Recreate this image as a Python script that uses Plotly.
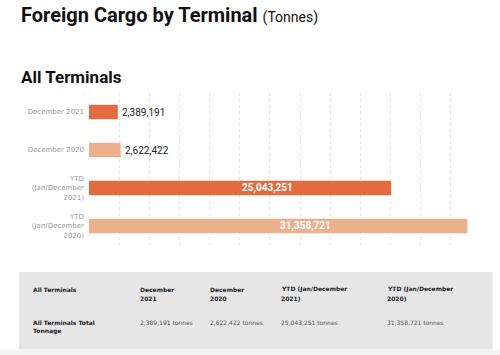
import plotly.graph_objects as go

# ---------------- data ----------------
categories = ["December 2021", "December 2020",
              "YTD<br>(Jan/December<br>2021)", "YTD<br>(Jan/December<br>2020)"]
values = [2389191, 2622422, 25043251, 31358721]

table_headers = ["All Terminals", "December\n2021", "December\n2020",
                 "YTD (Jan/December\n2021)", "YTD (Jan/December\n2020)"]
table_row_label = "All Terminals Total\nTonnage"
table_unit = "tonnes"

# ---------------- style ----------------
bar_colors = ["#E06C40", "#EDB08D", "#E06C40", "#EDB08D"]
WIDTH, HEIGHT = 500, 355
L, R, T, B = 89, 18, 93, 110
PW = WIDTH - L - R
PH = HEIGHT - T - B


def px(x):
    return (x - L) / PW


def py(y):
    return (HEIGHT - B - y) / PH


fig = go.Figure()
fig.add_trace(go.Bar(
    y=categories, x=values, orientation="h",
    marker=dict(color=bar_colors, line=dict(width=0)),
    hoverinfo="skip",
))

annotations = []
vmax = max(values)
for c, v in zip(categories, values):
    if v > 0.3 * vmax:
        annotations.append(dict(
            x=v / 2, y=c, xref="x", yref="y", text=f"{v:,}",
            showarrow=False, xanchor="left", yanchor="middle",
            font=dict(family="Roboto", size=10, color="white", weight="bold")))
    else:
        annotations.append(dict(
            x=v, y=c, xref="x", yref="y", text=f"{v:,}", xshift=2,
            showarrow=False, xanchor="left", yanchor="middle",
            font=dict(family="Roboto", size=10, color="#222222")))

# titles
annotations.append(dict(
    x=px(19), y=py(15), xref="paper", yref="paper", showarrow=False,
    xanchor="left", yanchor="middle",
    text="<b>Foreign Cargo by Terminal</b> <span style='font-size:14px'>(Tonnes)</span>",
    font=dict(family="Roboto", size=20, color="#111111")))
annotations.append(dict(
    x=px(19), y=py(77), xref="paper", yref="paper", showarrow=False,
    xanchor="left", yanchor="middle", text="<b>All Terminals</b>",
    font=dict(family="Roboto", size=17, color="#111111")))

# table
col_x = [31, 138, 208, 279, 385]
row_y = [289, 322]
pitch = 9
for cx, h in zip(col_x, table_headers):
    for i, line in enumerate(h.split("\n")):
        annotations.append(dict(
            x=px(cx), y=py(row_y[0] + i * pitch), xref="paper", yref="paper",
            showarrow=False, xanchor="left", yanchor="middle", text=f"<b>{line}</b>",
            font=dict(family="DejaVu Sans", size=6, color="#222222")))
for i, line in enumerate(table_row_label.split("\n")):
    annotations.append(dict(
        x=px(col_x[0]), y=py(row_y[1] + i * pitch), xref="paper", yref="paper",
        showarrow=False, xanchor="left", yanchor="middle", text=f"<b>{line}</b>",
        font=dict(family="DejaVu Sans", size=6, color="#222222")))
for cx, v in zip(col_x[1:], values):
    annotations.append(dict(
        x=px(cx), y=py(row_y[1]), xref="paper", yref="paper",
        showarrow=False, xanchor="left", yanchor="middle", text=f"{v:,} {table_unit}",
        font=dict(family="DejaVu Sans", size=6, color="#555555")))

shapes = [
    dict(type="rect", xref="paper", yref="paper", x0=px(19), x1=px(492.5),
         y0=py(349.5), y1=py(272), fillcolor="#E6E6E6", line=dict(width=0),
         layer="below"),
    dict(type="rect", xref="paper", yref="paper", x0=px(0), x1=px(500),
         y0=py(355), y1=py(350), fillcolor="#F4F4F4", line=dict(width=0),
         layer="below"),
]

fig.update_layout(
    width=WIDTH, height=HEIGHT,
    margin=dict(l=L, r=R, t=T, b=B),
    paper_bgcolor="white", plot_bgcolor="white",
    bargap=0.62, showlegend=False,
    annotations=annotations, shapes=shapes,
    xaxis=dict(range=[0, 32.57e6], dtick=2.5e6, tick0=0, showticklabels=False,
               showgrid=True, gridcolor="#E2E2E2", griddash="dot", gridwidth=1,
               zeroline=False, showline=False, fixedrange=True),
    yaxis=dict(autorange="reversed", showgrid=False, showline=False,
               ticks="", ticklabelstandoff=4,
               tickfont=dict(family="DejaVu Sans", size=7, color="#9A9A9A"),
               fixedrange=True),
)

fig.write_html(
    "out.html", config={"displayModeBar": False},
    post_script="document.body.style.margin='0';document.body.style.overflow='hidden';",
)
